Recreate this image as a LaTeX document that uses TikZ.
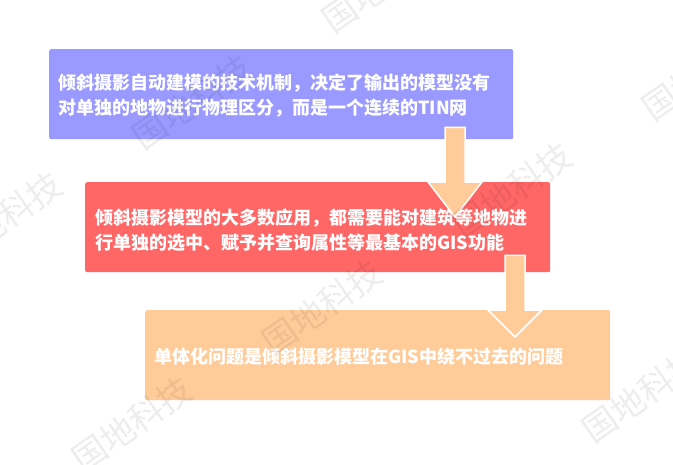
\documentclass[tikz,border=0pt]{standalone}
\usepackage{fontspec}
\newfontfamily\cjk{Noto Sans CJK SC}
\usetikzlibrary{calc}
\definecolor{boxpurple}{HTML}{9999FF}
\definecolor{boxred}{HTML}{FF6666}
\definecolor{boxpeach}{HTML}{FFCC99}
\begin{document}
\begin{tikzpicture}[x=1pt,y=-1pt,
  box/.style={rounded corners=2pt, draw=none, anchor=north west, inner sep=0pt},
  txt/.style={anchor=west, inner sep=0pt, align=left, text=white, font=\cjk\bfseries\fontsize{18}{25}\selectfont},
  blockarrow/.style={fill=boxpeach, draw=white, line width=1.5pt, line join=miter},
  wm/.style={text=black, opacity=0.07, rotate=35, inner sep=0pt, font=\cjk\fontsize{34}{34}\selectfont}]
\useasboundingbox (0,0) rectangle (673,464);
\fill[white] (0,0) rectangle (673,464);
\clip (0,0) rectangle (673,464);

% boxes
\node[box, fill=boxpurple, minimum width=464pt, minimum height=90pt] (b1) at (49,49) {};
\node[box, fill=boxred, minimum width=465pt, minimum height=90pt] (b2) at (85,182) {};
\node[box, fill=boxpeach, minimum width=465pt, minimum height=90pt] (b3) at (145,310) {};

% texts
\node[txt] (t1) at (58,96) {倾斜摄影自动建模的技术机制，决定了输出的模型没有\\对单独的地物进行物理区分，而是一个连续的TIN网};
\node[txt] (t2) at (95,230) {倾斜摄影模型的大多数应用，都需要能对建筑等地物进\\行单独的选中、赋予并查询属性等最基本的GIS功能};
\node[txt] (t3) at (154,357) {单体化问题是倾斜摄影模型在GIS中绕不过去的问题};

% arrow 1: b1 -> b2
\coordinate (a1s) at ($(b1.south west)+(406,-12)$);
\coordinate (a1t) at ($(b2.north west)+(370,35)$);
\coordinate (a1b) at (a1s |- b2.north);
\draw[blockarrow] ($(a1s)+(-10,0)$) -- ($(a1s)+(10,0)$) -- ($(a1b)+(10,0)$) -- ($(a1b)+(27,0)$) -- (a1t) -- ($(a1b)+(-27,0)$) -- ($(a1b)+(-10,0)$) -- cycle;

% arrow 2: b2 -> b3
\coordinate (a2s) at ($(b2.south west)+(430,-17)$);
\coordinate (a2t) at ($(b3.north west)+(370,27)$);
\coordinate (a2b) at (a2s |- b3.north);
\draw[blockarrow] ($(a2s)+(-10,0)$) -- ($(a2s)+(10,0)$) -- ($(a2b)+(10,0)$) -- ($(a2b)+(27,0)$) -- (a2t) -- ($(a2b)+(-27,0)$) -- ($(a2b)+(-10,0)$) -- cycle;

% watermarks
\foreach \i/\p in {w1/{(322,307)}, w2/{(642,395)}, w3/{(2,219)}, w4/{(132,424)}, w5/{(512,190)}, w6/{(192,102)}, w7/{(702,73)}, w8/{(382,-15)}}
  \node[wm] (\i) at \p {国地科技};
\end{tikzpicture}
\end{document}
